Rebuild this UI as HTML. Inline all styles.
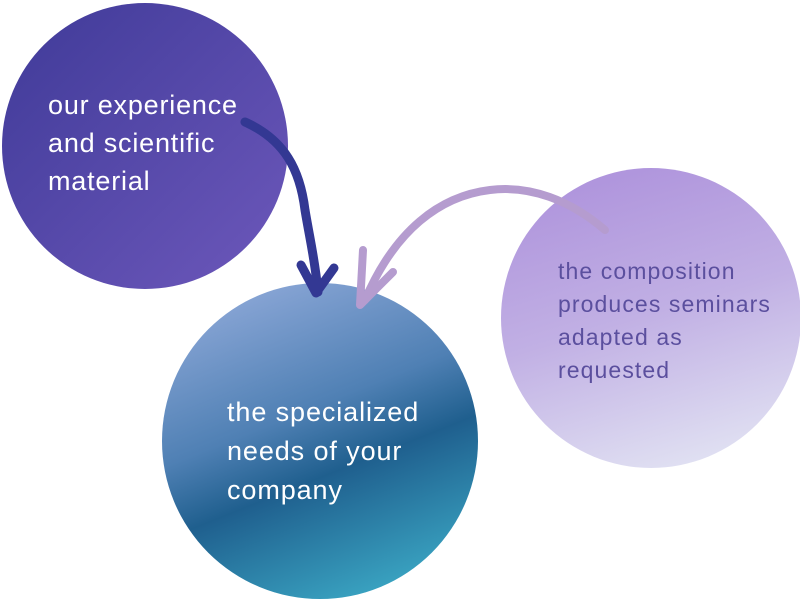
<!DOCTYPE html>
<html><head><style>
html,body{margin:0;padding:0;background:#fff;}
body{width:800px;height:599px;position:relative;overflow:hidden;font-family:"Liberation Sans",sans-serif;}
svg{position:absolute;left:0;top:0;}
.t{position:absolute;font-weight:300;}
</style></head><body>
<svg width="800" height="599" viewBox="0 0 800 599">
<defs>
<linearGradient id="g1" x1="0" y1="0" x2="1" y2="1">
<stop offset="0" stop-color="#3f3a98"/><stop offset="1" stop-color="#6d58bb"/></linearGradient>
<linearGradient id="g2" x1="0.3" y1="0" x2="0.7" y2="1">
<stop offset="0" stop-color="#8aa6d6"/><stop offset="0.4" stop-color="#4f80b4"/><stop offset="0.6" stop-color="#1f5f8e"/><stop offset="1" stop-color="#3ba7c4"/></linearGradient>
<linearGradient id="g3" x1="0.3" y1="0" x2="0.6" y2="1">
<stop offset="0" stop-color="#ae93dc"/><stop offset="0.5" stop-color="#c1b0e4"/><stop offset="1" stop-color="#e0e0f2"/></linearGradient>
</defs>
<circle cx="145" cy="146" r="143" fill="url(#g1)"/>
<circle cx="320" cy="441" r="158" fill="url(#g2)"/>
<circle cx="651" cy="318" r="150" fill="url(#g3)"/>
<g fill="none" stroke-linecap="round" stroke-linejoin="round">
<path d="M245 122 C285 140 300 170 305 210 C310 240 315 260 318 292" stroke="#333893" stroke-width="9"/>
<path d="M301 265 L316 293 L334 268" stroke="#333893" stroke-width="9"/>
<path d="M605 230 C570 200 530 185 490 190 C440 196 395 230 365 300" stroke="#b59ccf" stroke-width="8"/>
<path d="M363 250 L360 305 L393 272" stroke="#b59ccf" stroke-width="8"/>
</g>
</svg>
<div class="t" style="left:48px;top:86px;font-size:27px;line-height:38px;color:#fff;letter-spacing:0.8px;">our experience<br>and scientific<br>material</div>
<div class="t" style="left:227px;top:393px;font-size:27px;line-height:39px;color:#fff;letter-spacing:0.9px;">the specialized<br>needs of your<br>company</div>
<div class="t" style="left:558px;top:255px;font-size:23px;line-height:33px;color:#5b4f9e;letter-spacing:1.1px;">the composition<br>produces seminars<br>adapted as<br>requested</div>
</body></html>
